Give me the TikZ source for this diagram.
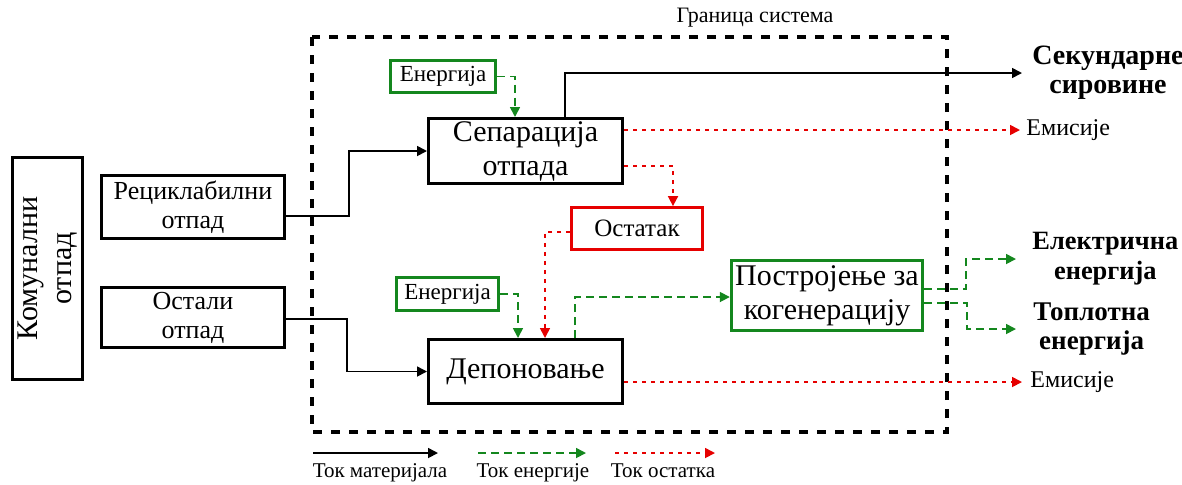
\documentclass[tikz,border=0pt]{standalone}
\usepackage{fontspec}
\setmainfont{Liberation Serif}
\usetikzlibrary{arrows.meta,positioning,calc}
\definecolor{encol}{RGB}{20,135,30}
\definecolor{rescol}{RGB}{230,0,0}

\begin{document}
\begin{tikzpicture}[x=0.5pt, y=-0.5pt,
    box/.style={rectangle, draw, line width=1.7pt, align=center, inner sep=1pt},
    enbox/.style={box, draw=encol, line width=1.5pt},
    resbox/.style={box, draw=rescol, line width=1.6pt},
    bigtxt/.style={font=\fontsize{15}{17}\selectfont},
    midtxt/.style={font=\fontsize{13}{14.5}\selectfont},
    smltxt/.style={font=\fontsize{11.5}{13}\selectfont},
    outlab/.style={font=\fontsize{13.5}{14.5}\selectfont\bfseries, align=center, inner sep=0pt},
    emlab/.style={font=\fontsize{12}{13}\selectfont, inner sep=0pt},
    leglab/.style={font=\fontsize{10.5}{12}\selectfont, inner sep=0pt, anchor=base},
    flowtip/.style={-{Triangle[length=5pt,width=5pt]}},
    matflow/.style={flowtip, line width=0.85pt},
    enflow/.style={flowtip, encol, line width=0.85pt, dash pattern=on 4pt off 2.5pt},
    resflow/.style={flowtip, rescol, line width=0.85pt, dash pattern=on 2pt off 2.5pt},
    boundary/.style={line width=2pt, dash pattern=on 4.5pt off 4.5pt},
]
\useasboundingbox (0,0) rectangle (1182,484);

\node[font=\fontsize{11}{13}\selectfont] (gran) at (755,18) {Граница система};
\draw[boundary] (312,37) rectangle (947,432);

\node[box, bigtxt, rotate=90, minimum width=110.8pt, minimum height=34.8pt] (kom) at (47.5,268.5) {Комунални\\отпад};
\node[box, midtxt, minimum width=91.3pt, minimum height=31.3pt] (rec) at (193,207) {Рециклабилни\\отпад};
\node[box, midtxt, minimum width=91.3pt, minimum height=29.8pt] (ost) at (193,317.5) {Остали\\отпад};

\node[enbox, smltxt, minimum width=52.5pt, minimum height=16pt] (en1) at (443,76.5) {Енергија};
\node[box, bigtxt, minimum width=96.8pt, minimum height=32.3pt] (sep) at (525.5,151) {Сепарација\\отпада};
\node[resbox, font=\fontsize{12.5}{14}\selectfont, minimum width=65.3pt, minimum height=20.8pt] (rest) at (637,228.5) {Остатак};
\node[enbox, smltxt, minimum width=51pt, minimum height=16.5pt] (en2) at (447.5,294) {Енергија};
\node[box, bigtxt, minimum width=96.8pt, minimum height=31.8pt] (dep) at (525.5,371.5) {Депоновање};
\node[enbox, bigtxt, line width=1.7pt, minimum width=95.5pt, minimum height=35pt] (cog) at (827,295.5) {Постројење за\\когенерацију};

\coordinate (sekin) at (1022,73);
\coordinate (em1in) at (1020,130);
\coordinate (elin) at (1016,259);
\coordinate (heatin) at (1016,329);
\coordinate (em2in) at (1022,382);
\node[outlab, font=\fontsize{14}{14.5}\selectfont\bfseries, right=5pt of sekin] (sek) {Секундарне\\сировине};
\node[emlab, right=3pt of em1in] (em1) {Емисије};
\node[outlab, font=\fontsize{13.2}{15}\selectfont\bfseries, right=8pt of elin] (elec) {Електрична\\енергија};
\node[outlab, right=8.5pt of heatin] (heat) {Топлотна\\енергија};
\node[emlab, right=4pt of em2in] (em2) {Емисије};

\draw[matflow] ($(rec.east)+(0,9)$) -- ++(63,0) |- (sep.west);
\draw[matflow] ($(ost.east)+(0,1.5)$) -- ++(61,0) |- (dep.west);
\draw[matflow] ($(sep.north)+(39.5,0)$) |- (sekin);
\draw[enflow] (en1.east) -| ($(sep.north)+(-10.5,0)$);
\draw[resflow] ($(sep.east)+(0,-21)$) -- (em1in);
\draw[resflow] ($(sep.east)+(0,15)$) -| ($(rest.north)+(36,0)$);
\draw[resflow] ($(rest.west)+(0,3.5)$) -| ($(dep.north)+(19.5,0)$);
\draw[enflow] (en2.east) -| ($(dep.north)+(-7.5,0)$);
\draw[enflow] ($(dep.north)+(49.5,0)$) |- ($(cog.west)+(0,1.5)$);
\draw[enflow] ($(cog.east)+(0,-6.5)$) -- ++(42,0) |- (elin);
\draw[enflow] ($(cog.east)+(0,7.5)$) -- ++(43,0) |- (heatin);
\draw[resflow] ($(dep.east)+(0,10.5)$) -- (em2in);

\coordinate (lm1) at (313,453);
\coordinate (lm2) at (438,453);
\coordinate (le1) at (478,453);
\coordinate (le2) at (586,453);
\coordinate (lr1) at (615,453);
\coordinate (lr2) at (715,453);
\draw[matflow] (lm1) -- (lm2);
\draw[enflow] (le1) -- (le2);
\draw[resflow] (lr1) -- (lr2);
\node[leglab] (legm) at (380,477) {Ток материјала};
\node[leglab] (lege) at (533,477) {Ток енергије};
\node[leglab] (legr) at (663,477) {Ток остатка};
\end{tikzpicture}
\end{document}
